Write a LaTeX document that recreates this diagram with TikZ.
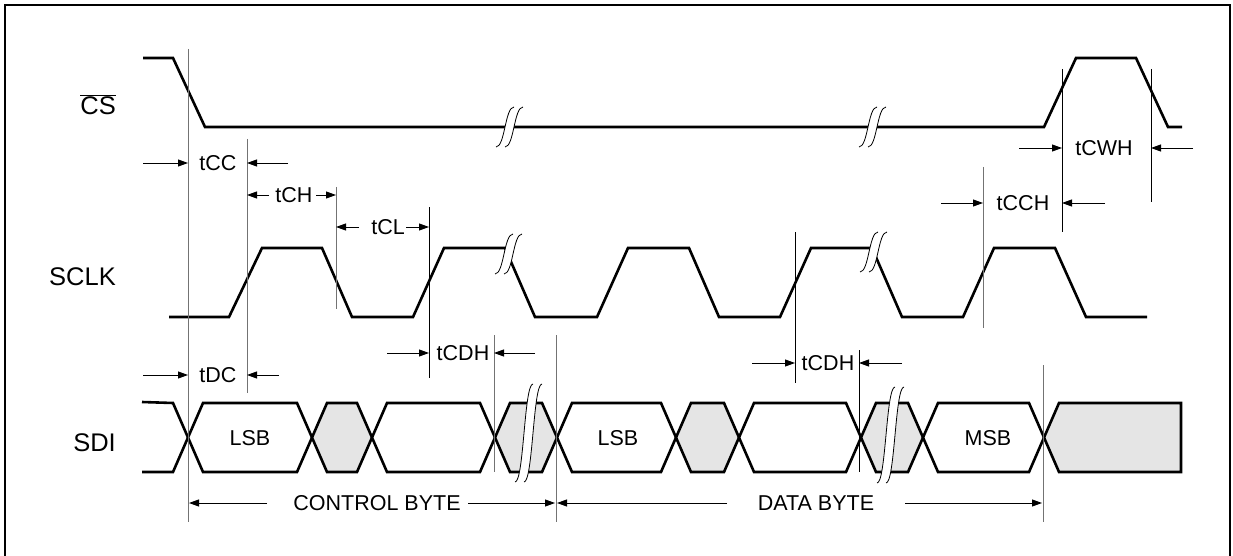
\documentclass[tikz,border=0pt]{standalone}
\usepackage{fontspec}
\setmainfont{Liberation Sans}
\usetikzlibrary{arrows.meta}
\tikzset{
  sig/.style={line width=2.6pt, line join=miter},
  vline/.style={line width=1pt, black!55},
  vlineb/.style={line width=1pt, black},
  brkline/.style={line width=0.8pt, black},
  dimarr/.style={-{Triangle[length=10pt,width=7pt]}, line width=0.9pt},
  lbl/.style={font=\fontsize{25.5}{28}\selectfont, anchor=east, inner sep=0pt},
  ann/.style={font=\fontsize{21.5}{24}\selectfont, inner sep=0pt},
  greycell/.style={fill=black!10},
  whitecell/.style={fill=white},
}
% hexagon cell of the SDI bus between two crossings
\newcommand\sdicell[3]{%
  \draw[sig,#3] (#1,437.5) -- ({#1+15},403) -- ({#2-15},403) -- (#2,437.5)
     -- ({#2-15},472) -- ({#1+15},472) -- cycle;}
% break mark: x, y, half height
\newcommand\brkmark[3]{%
  \begin{scope}[shift={(#1,#2)}]
    \fill[white] (-14,#3) .. controls (-5,#3) and (-5,-#3) .. (4,-#3)
      -- (13,-#3) .. controls (4,-#3) and (4,#3) .. (-5,#3) -- cycle;
    \draw[brkline] (-14,#3) .. controls (-5,#3) and (-5,-#3) .. (4,-#3);
    \draw[brkline] (-5,#3) .. controls (4,#3) and (4,-#3) .. (13,-#3);
  \end{scope}}
\begin{document}
\begin{tikzpicture}[x=1pt,y=-1pt]
\useasboundingbox (0,0) rectangle (1233,556);
% frame
\draw[line width=2pt] (5,560) -- (5,5) -- (1230,5) -- (1230,560);

% signal names
\node[lbl] (lcs) at (116,105) {$\overline{\mbox{CS}}$};
\node[lbl] (lsclk) at (116,277) {SCLK};
\node[lbl] (lsdi) at (116,443) {SDI};

% CS
\draw[sig] (143,58) -- (173,58) -- (205,127) -- (1044,127) -- (1076,58)
  -- (1136,58) -- (1168,127) -- (1182,127);

% SCLK
\draw[sig] (169,317) -- (229,317) -- (262,248) -- (322,248) -- (352,317)
  -- (413,317) -- (444,248) -- (505,248) -- (535,317) -- (597,317)
  -- (628,248) -- (689,248) -- (719,317) -- (780,317) -- (811,248)
  -- (872,248) -- (902,317) -- (963,317) -- (994,248) -- (1055,248)
  -- (1086,317) -- (1147,317);

% SDI
\draw[sig] (142,402) -- (173,403) -- (188,437.5) -- (173,472) -- (142,472);
\sdicell{188}{312}{whitecell}
\sdicell{312}{372}{greycell}
\sdicell{372}{495}{whitecell}
\sdicell{495}{557}{greycell}
\sdicell{557}{676}{whitecell}
\sdicell{676}{739}{greycell}
\sdicell{739}{861}{whitecell}
\sdicell{861}{923}{greycell}
\sdicell{923}{1044}{whitecell}
\draw[sig,greycell] (1044,437.5) -- (1059,403) -- (1181,403) -- (1181,472)
  -- (1059,472) -- cycle;
\node[ann] (lsb1) at (250,438) {LSB};
\node[ann] (lsb2) at (618,438) {LSB};
\node[ann] (msb) at (988,438) {MSB};

% break marks
\brkmark{510}{127}{20}
\brkmark{873}{127}{20}
\brkmark{509}{254}{20}
\brkmark{874}{252}{20}
\brkmark{529}{433}{49}
\brkmark{891}{435}{48}

% reference lines
\draw[vline] (188,49) -- (188,522);
\draw[vline] (247,139) -- (247,393);
\draw[vline] (336,187) -- (336,309);
\draw[vlineb] (429,207) -- (429,378);
\draw[vline] (494,335) -- (494,472);
\draw[vline] (556,335) -- (556,522);
\draw[vlineb] (795,232) -- (795,383);
\draw[vlineb] (859,350) -- (859,472);
\draw[vline] (983,167) -- (983,328);
\draw[vlineb] (1062,69) -- (1062,232);
\draw[vlineb] (1151,69) -- (1151,202);
\draw[vline] (1043,365) -- (1043,522);

% tCC
\node[ann] (tcc) at (218,163) {tCC};
\draw[dimarr] (143,163) -- (188,163);
\draw[dimarr] (288,163) -- (247,163);
% tCH
\node[ann] (tch) at (294,195) {tCH};
\draw[dimarr] (269,195) -- (247,195);
\draw[dimarr] (316,195) -- (336,195);
% tCL
\node[ann] (tcl) at (388,227) {tCL};
\draw[dimarr] (359,227) -- (336,227);
\draw[dimarr] (406,227) -- (429,227);
% tCDH 1
\node[ann] (tcdh1) at (463,353) {tCDH};
\draw[dimarr] (387,353) -- (429,353);
\draw[dimarr] (535,353) -- (494,353);
% tDC
\node[ann] (tdc) at (218,375) {tDC};
\draw[dimarr] (143,375) -- (188,375);
\draw[dimarr] (279,375) -- (247,375);
% tCDH 2
\node[ann] (tcdh2) at (828,363) {tCDH};
\draw[dimarr] (752,363) -- (795,363);
\draw[dimarr] (902,363) -- (859,363);
% tCCH
\node[ann] (tcch) at (1023,203) {tCCH};
\draw[dimarr] (941,203) -- (983,203);
\draw[dimarr] (1105,203) -- (1062,203);
% tCWH
\node[ann] (tcwh) at (1104,148) {tCWH};
\draw[dimarr] (1019,148) -- (1062,148);
\draw[dimarr] (1193,148) -- (1151,148);
% CONTROL BYTE
\node[ann] (cbyte) at (377,503) {CONTROL BYTE};
\draw[dimarr] (267,503) -- (189,503);
\draw[dimarr] (468,503) -- (555,503);
% DATA BYTE
\node[ann] (dbyte) at (816,503) {DATA BYTE};
\draw[dimarr] (727,503) -- (557,503);
\draw[dimarr] (905,503) -- (1042,503);
\end{tikzpicture}
\end{document}
